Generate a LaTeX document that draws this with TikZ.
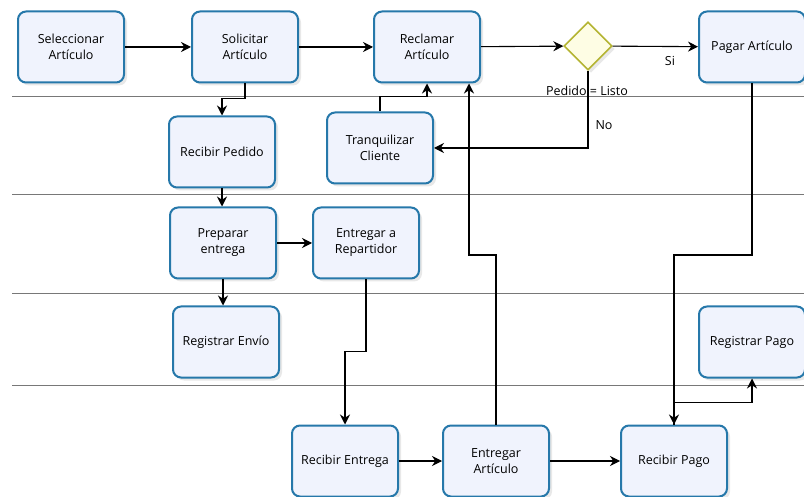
\documentclass[tikz,border=0pt]{standalone}
\usepackage{fontspec}
\setmainfont{Open Sans}
\usetikzlibrary{shapes.geometric,arrows.meta,shadows}
\definecolor{boxline}{RGB}{38,120,170}
\definecolor{boxfill}{RGB}{240,243,253}
\definecolor{gateline}{RGB}{180,180,50}
\definecolor{gatefill}{RGB}{254,253,228}
\definecolor{laneline}{RGB}{120,120,120}

\begin{document}
\begin{tikzpicture}[x=1pt,y=-1pt,>={Stealth[length=10pt,width=10pt]},
  font=\fontsize{12.5}{16}\selectfont,
  task/.style={draw=boxline,line width=2pt,fill=boxfill,rounded corners=8pt,
    minimum width=106pt,minimum height=71pt,align=center,
    drop shadow={opacity=0.18,shadow xshift=3pt,shadow yshift=-3pt}},
  gate/.style={diamond,draw=gateline,line width=1.6pt,fill=gatefill,
    minimum width=48pt,minimum height=48pt,inner sep=0pt,
    drop shadow={opacity=0.18,shadow xshift=3pt,shadow yshift=-3pt}},
  flow/.style={->,line width=1.1pt},
  lane/.style={draw=laneline,line width=1pt}]
\useasboundingbox (0,0) rectangle (804,497);
% lanes
\foreach \ly in {97,195,294,385}
  \draw[lane] (12,\ly) -- (804,\ly);
% tasks
\node[task] (sel) at (71,47) {Seleccionar\\Artículo};
\node[task] (sol) at (245,47) {Solicitar\\Artículo};
\node[task] (recl) at (427,47) {Reclamar\\Artículo};
\node[gate] (dec) at (588,46) {};
\node[task] (pag) at (752,47) {Pagar Artículo};
\node[task] (rped) at (222,152) {Recibir Pedido};
\node[task] (tranq) at (380,148) {Tranquilizar\\Cliente};
\node[task] (prep) at (223,243) {Preparar\\entrega};
\node[task] (rep) at (366,243) {Entregar a\\Repartidor};
\node[task] (renv) at (226,342) {Registrar Envío};
\node[task] (rgpago) at (752,342) {Registrar Pago};
\node[task] (rent) at (345,461) {Recibir Entrega};
\node[task] (eart) at (496,461) {Entregar\\Artículo};
\node[task] (rpago) at (674,461) {Recibir Pago};
% labels
\node (si) at (670,61) {Si};
\node (cond) at (587,91) {Pedido = Listo};
\node (no) at (604,125) {No};
% flows
\draw[flow] (sel) -- (sol);
\draw[flow] (sol) -- (recl);
\draw[flow] (recl) -- (dec);
\draw[flow] (dec) -- (pag);
\draw[flow] (dec.south) |- (tranq.east);
\draw[flow] (sol.south) -- ++(0,15) -| (rped.north);
\draw[flow] (tranq.north) -- ++(0,-15) -| (recl.south);
\draw[flow] (rped) -- (rped |- prep.north);
\draw[flow] (prep) -- (rep);
\draw[flow] (prep.south) -- (prep.south |- renv.north);
\draw[flow] (rep.south) -- ++(0,72) -| (rent.north);
\draw[flow] (rent) -- (eart);
\draw[flow] (eart) -- (rpago);
\draw[flow] (eart.north) -- (eart.north |- 0,255) -| ([xshift=42pt]recl.south);
\draw[flow] (pag.south) -- (pag.south |- 0,255) -| (rpago.north);
\draw[flow] (rpago.north) -- ++(0,-22) -| (rgpago.south);
\end{tikzpicture}
\end{document}
